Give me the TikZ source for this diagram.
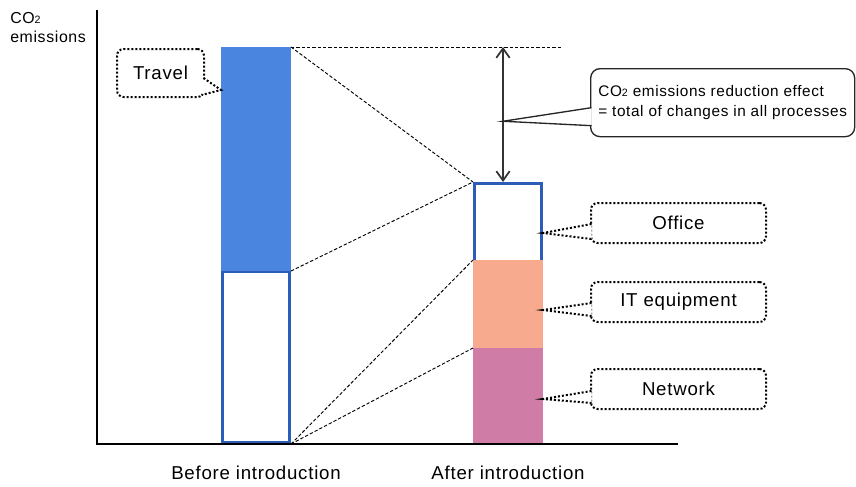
\documentclass[tikz,border=0pt]{standalone}
\usepackage{fontspec}
\setmainfont{Liberation Sans}[LetterSpace=4]
\usepackage{tikz}
\usetikzlibrary{arrows.meta,positioning,calc}
\definecolor{travelblue}{HTML}{4A86E0}
\definecolor{frameblue}{HTML}{2B5CB8}
\definecolor{itsalmon}{HTML}{F8AA8E}
\definecolor{netpink}{HTML}{CF7DA6}
\newcommand{\tagptr}[4]{\fill[white] #2 -- #4 -- #3 -- cycle; \draw[#1] #2 -- #4 -- #3;}
\tikzset{
	barpart/.style = {rectangle, inner sep=0pt, anchor=north west},
	bar_f/.style = {barpart, outer sep=0pt, minimum width=52.5pt},% filled part of a bar
	bar_e/.style = {barpart, draw=frameblue, fill=white, line width=2.2pt,
		minimum width=50.3pt},% empty part, blue frame
	tag_d/.style = {rectangle, rounded corners=5pt, draw=black, fill=white,
		line width=1.5pt, dash pattern=on 1.5pt off 1.5pt, anchor=north west,
		font=\fontsize{14}{17}\selectfont, minimum height=30pt},% dotted tag
	tag_s/.style = {rectangle, rounded corners=7pt, draw=black!85, fill=white,
		line width=1pt, anchor=north west, align=left, minimum width=198pt,
		minimum height=51pt, font=\fontsize{11.5}{14.5}\selectfont},% solid note
	ptr_d/.style = {black, line width=1.5pt, dash pattern=on 1.5pt off 1.5pt},% dotted pointer
	ptr_s/.style = {black!85, line width=1pt},% solid pointer
	guide/.style = {black, line width=0.7pt, dash pattern=on 2.5pt off 1.5pt},
	axis/.style = {black, line width=1.9pt},
	caption/.style = {inner sep=0pt, font=\fontsize{14}{17}\selectfont}
}
\newcommand{\sub}[1]{{\fontsize{8}{8}\selectfont #1}}

\begin{document}
\begin{tikzpicture}[x=0.75pt, y=-0.75pt]
\useasboundingbox (0,0) rectangle (856,486);

% bars
\node [bar_e, minimum height=128.3pt] (rest) at (221,270) {};
\node [bar_f, fill=travelblue, minimum height=168pt] (travel) at (221,47) {};
\node [bar_e, minimum height=60pt] (office) at (473,182) {};
\node [bar_f, fill=itsalmon, minimum height=66pt] (it) at (473,260) {};
\node [bar_f, fill=netpink, minimum height=72pt] (net) at (473,348) {};

% axes
\coordinate (origin) at (97,444);
\coordinate (ytop) at (97,10);
\coordinate (xend) at (678,444);
\draw [axis] (ytop) -- (origin) -- (xend);
\node [anchor=north west, align=left, inner sep=0pt,
	font=\fontsize{11.9}{14}\selectfont] (ylabel) at (10,12) {CO\sub{2}\\emissions};
\node [caption, below=16pt of rest] (before) {Before introduction};
\node [caption, below=16pt of net] (after) {After introduction};

% guides
\coordinate (topend) at ($(travel.north east)+(271,0)$);
\draw [guide] (travel.north east) -- (topend);
\draw [guide] (travel.north east) -- (office.north west);
\draw [guide] (travel.south east) -- (office.north west);
\draw [guide] (rest.south east) -- (it.north west);
\draw [guide] (rest.south east) -- (net.north west);

% reduction
\coordinate (gaptop) at ($(travel.north east)+(212,0)$);
\coordinate (gapbot) at (gaptop |- office.north);
\coordinate (gapmid) at ($(gaptop)!0.55!(gapbot)$);
\draw [{Straight Barb[length=7pt,width=10pt]}-{Straight Barb[length=7pt,width=10pt]},
	line width=1.3pt, black!80] (gaptop) -- (gapbot);
\node [tag_s] (note) at (590,68) {CO\sub{2} emissions reduction effect\\= total of changes in all processes};
\tagptr{ptr_s}{($(note.west)+(1.5,5)$)}{($(note.west)+(1.5,23)$)}{(gapmid)}

% tags
\node [tag_d, minimum width=65.25pt, minimum height=36pt] (travel_t) at (116,48) {Travel};
\node [tag_d, minimum width=131.25pt] (office_t) at (590,202) {Office};
\node [tag_d, minimum width=131.25pt] (it_t) at (590,281) {IT equipment};
\node [tag_d, minimum width=131.25pt] (net_t) at (590,368) {Network};
\tagptr{ptr_d}{($(travel_t.east)+(-1.5,5)$)}{($(travel_t.east)+(-3.5,22)$)}{($(travel.north west)+(0,43)$)}
\tagptr{ptr_d}{($(office_t.west)+(1.5,1)$)}{($(office_t.west)+(1.5,16)$)}{($(office.north east)+(0,51)$)}
\tagptr{ptr_d}{($(it_t.west)+(1.5,1)$)}{($(it_t.west)+(1.5,14)$)}{($(it.east)+(0,6)$)}
\tagptr{ptr_d}{($(net_t.west)+(1.5,2)$)}{($(net_t.west)+(1.5,14)$)}{($(net.east)+(0,3)$)}
\end{tikzpicture}
\end{document}
